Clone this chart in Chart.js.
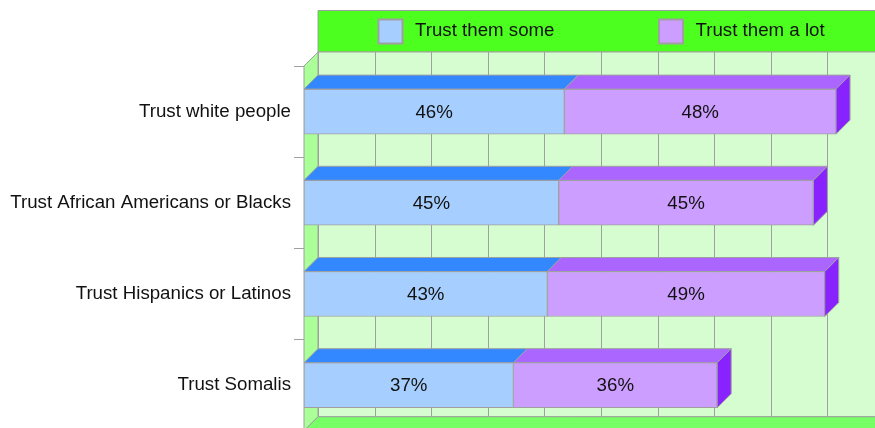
<!DOCTYPE html>
<html>
<head>
<meta charset="utf-8">
<script src="https://cdn.jsdelivr.net/npm/chart.js@4"></script>
<style>
    html, body { margin: 0; padding: 0; background: #fff; overflow: hidden; }
    canvas { display: block; }
</style>
</head>
<body>
<canvas id="myChart" width="875" height="445"></canvas>
<script>
const categories = ['Trust white people', 'Trust African Americans or Blacks', 'Trust Hispanics or Latinos', 'Trust Somalis'];
const trustSome = [46, 45, 43, 37];
const trustLot = [48, 45, 49, 36];
const seriesNames = ['Trust them some', 'Trust them a lot'];
const gridTicks = [0, 10, 20, 30, 40, 50, 60, 70, 80, 90, 100];

const DEPTH = 14;
const FONT = '"Liberation Sans", Arial, sans-serif';
const FONT_SIZE = 18.7;
const EDGE = '#a0a0a0';
const faces = [
    { front: '#a6cfff', top: '#3388ff', side: '#1f6fe8' },
    { front: '#cc9eff', top: '#aa66ff', side: '#8822ff' }
];

function poly(ctx, pts, fill) {
    ctx.beginPath();
    ctx.moveTo(pts[0][0], pts[0][1]);
    for (let i = 1; i < pts.length; i++) ctx.lineTo(pts[i][0], pts[i][1]);
    ctx.closePath();
    ctx.fillStyle = fill;
    ctx.fill();
    ctx.strokeStyle = EDGE;
    ctx.lineWidth = 1;
    ctx.stroke();
}

// walls, floor, grid and legend behind the bars
const backdrop = {
    id: 'backdrop',
    beforeDatasetsDraw(chart) {
        const ctx = chart.ctx;
        const a = chart.chartArea;
        const x = chart.scales.x;
        const right = x.getPixelForValue(100) + DEPTH;
        ctx.save();

        // legend strip
        poly(ctx, [[a.left + DEPTH, 10.5], [right, 10.5], [right, a.top - DEPTH], [a.left + DEPTH, a.top - DEPTH]], '#4dff1f');

        // back wall + vertical grid
        poly(ctx, [[a.left + DEPTH, a.top - DEPTH], [right, a.top - DEPTH], [right, a.bottom - DEPTH], [a.left + DEPTH, a.bottom - DEPTH]], '#d5fdd0');
        ctx.strokeStyle = EDGE;
        gridTicks.forEach(v => {
            const gx = Math.round(x.getPixelForValue(v) + DEPTH) + 0.5;
            ctx.beginPath();
            ctx.moveTo(gx, a.top - DEPTH);
            ctx.lineTo(gx, a.bottom - DEPTH);
            ctx.stroke();
        });

        // side wall and floor
        poly(ctx, [[a.left, a.top], [a.left + DEPTH, a.top - DEPTH], [a.left + DEPTH, a.bottom - DEPTH], [a.left, a.bottom]], '#aaff99');
        poly(ctx, [[a.left, a.bottom], [a.left + DEPTH, a.bottom - DEPTH], [right, a.bottom - DEPTH], [right, a.bottom]], '#77ff66');

        // legend items
        ctx.font = FONT_SIZE + 'px ' + FONT;
        ctx.textBaseline = 'middle';
        const box = 24, gap = 13, between = 104;
        const widths = seriesNames.map(n => ctx.measureText(n).width);
        const total = box * 2 + gap * 2 + widths[0] + widths[1] + between;
        let lx = Math.round((a.left + DEPTH + right) / 2 - total / 2);
        const ly = (10 + a.top - DEPTH) / 2;
        seriesNames.forEach((name, i) => {
            ctx.fillStyle = faces[i].front;
            ctx.fillRect(lx + 0.5, ly - box / 2 + 0.5, box, box);
            ctx.strokeStyle = EDGE;
            ctx.lineWidth = 2;
            ctx.strokeRect(lx + 0.5, ly - box / 2 + 0.5, box, box);
            ctx.fillStyle = '#111';
            ctx.textAlign = 'left';
            ctx.fillText(name, lx + box + gap, ly);
            lx += box + gap + widths[i] + between;
        });
        ctx.restore();
    },

    // top and end faces, then the value labels
    afterDatasetsDraw(chart) {
        const ctx = chart.ctx;
        const n = chart.data.datasets.length;
        ctx.save();
        for (let d = 0; d < n; d++) {
            const meta = chart.getDatasetMeta(d);
            meta.data.forEach(bar => {
                const p = bar.getProps(['x', 'y', 'base', 'height'], true);
                const top = p.y - p.height / 2;
                const bottom = p.y + p.height / 2;
                poly(ctx, [[p.base, top], [p.x, top], [p.x + DEPTH, top - DEPTH], [p.base + DEPTH, top - DEPTH]], faces[d].top);
                if (d === n - 1) {
                    poly(ctx, [[p.x, top], [p.x + DEPTH, top - DEPTH], [p.x + DEPTH, bottom - DEPTH], [p.x, bottom]], faces[d].side);
                }
            });
        }
        ctx.font = FONT_SIZE + 'px ' + FONT;
        ctx.fillStyle = '#111';
        ctx.textAlign = 'center';
        ctx.textBaseline = 'middle';
        for (let d = 0; d < n; d++) {
            const values = chart.data.datasets[d].data;
            chart.getDatasetMeta(d).data.forEach((bar, i) => {
                const p = bar.getProps(['x', 'y', 'base'], true);
                ctx.fillText(values[i] + '%', (p.base + p.x) / 2, p.y + 1);
            });
        }
        ctx.restore();
    }
};

const ctx = document.getElementById('myChart');
const myChart = new Chart(ctx, {
    type: 'bar',
    data: {
        labels: categories,
        datasets: [
            { label: seriesNames[0], data: trustSome, backgroundColor: faces[0].front },
            { label: seriesNames[1], data: trustLot, backgroundColor: faces[1].front }
        ].map(ds => Object.assign(ds, {
            borderColor: EDGE,
            borderWidth: 1,
            borderSkipped: false,
            barThickness: 45
        }))
    },
    options: {
        indexAxis: 'y',
        responsive: false,
        animation: false,
        layout: { padding: { top: 66, right: 5, bottom: 14, left: 0 } },
        plugins: {
            legend: { display: false },
            tooltip: { enabled: false }
        },
        scales: {
            x: { display: false, stacked: true, min: 0, max: 100 },
            y: {
                stacked: true,
                border: { display: false },
                grid: { drawOnChartArea: false, drawTicks: true, tickLength: 10, color: EDGE, offset: true },
                ticks: { padding: 3, color: '#111', font: { family: FONT, size: FONT_SIZE } },
                afterFit(scale) { scale.width = 304; }
            }
        }
    },
    plugins: [backdrop]
});
</script>
</body>
</html>
